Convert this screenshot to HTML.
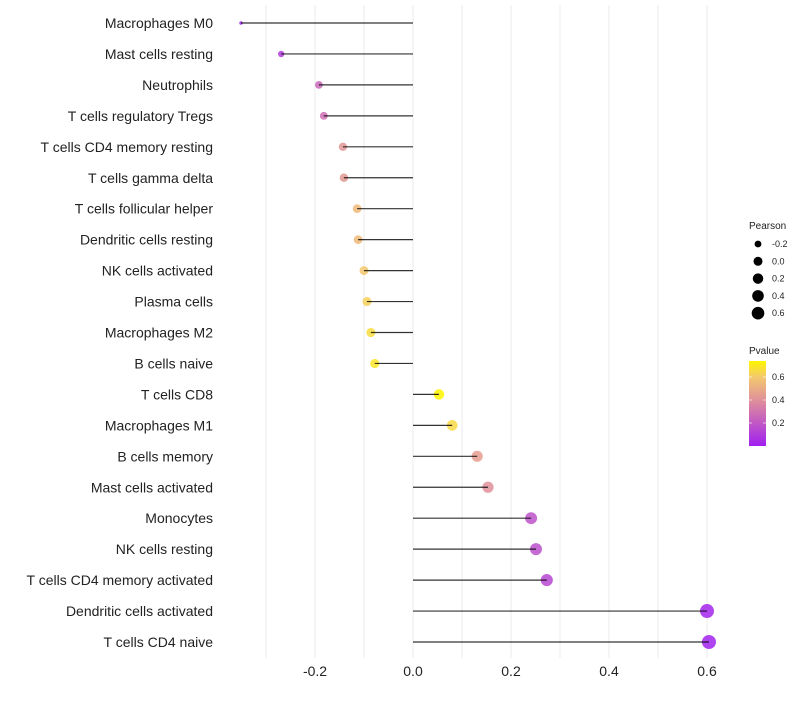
<!DOCTYPE html>
<html><head><meta charset="utf-8"><style>
body{margin:0;background:#fff;font-family:"Liberation Sans",sans-serif}
</style></head><body>
<svg id="chart" width="800" height="700" xmlns="http://www.w3.org/2000/svg"></svg>
<script>
const categories=["Macrophages M0","Mast cells resting","Neutrophils","T cells regulatory  Tregs","T cells CD4 memory resting","T cells gamma delta","T cells follicular helper","Dendritic cells resting","NK cells activated","Plasma cells","Macrophages M2","B cells naive","T cells CD8","Macrophages M1","B cells memory","Mast cells activated","Monocytes","NK cells resting","T cells CD4 memory activated","Dendritic cells activated","T cells CD4 naive"];
const pearson=[-0.351,-0.269,-0.192,-0.182,-0.143,-0.141,-0.114,-0.112,-0.100,-0.094,-0.086,-0.078,0.053,0.080,0.131,0.153,0.241,0.251,0.273,0.600,0.604];
const pvalue=[0.02,0.10,0.26,0.28,0.42,0.43,0.55,0.55,0.60,0.63,0.67,0.70,0.76,0.66,0.45,0.40,0.18,0.17,0.14,0.02,0.01];
const xTicks=[-0.2,0.0,0.2,0.4,0.6];
const xTickLabels=["-0.2","0.0","0.2","0.4","0.6"];
const sizeLegend=[-0.2,0.0,0.2,0.4,0.6];
const colorTicks=[0.2,0.4,0.6];

const svg=document.getElementById('chart');
const NS="http://www.w3.org/2000/svg";
function mk(t,a,p){const e=document.createElementNS(NS,t);for(const k in a)e.setAttribute(k,a[k]);(p||svg).appendChild(e);return e;}
const x=v=>413+v*490;
const y=i=>23+i*30.95;
const rad=v=>Math.max(1.5,Math.sqrt(49*Math.pow(Math.max(0,(v+0.37)/0.97),0.7)));
function lerp(a,b,t){return a.map((c,i)=>Math.round(c+(b[i]-c)*t));}
function col(p){const s=[[160,32,240],[224,144,154],[243,200,110],[255,245,0]];const pos=[0,0.4,0.6,0.76];
 let t=Math.min(Math.max(p,0),0.76);for(let i=0;i<3;i++){if(t<=pos[i+1]){const c=lerp(s[i],s[i+1],(t-pos[i])/(pos[i+1]-pos[i]));return `rgb(${c})`;}}return 'rgb(255,245,0)';}

for(let g=-0.3;g<=0.61;g+=0.1){const l=mk('line',{x1:x(g),x2:x(g),y1:5,y2:658,stroke:'#ebebeb','stroke-width':1});
}
xTicks.forEach((v,i)=>{const t=mk('text',{x:x(v),y:676,'font-size':14,'text-anchor':'middle',fill:'#222'});t.textContent=xTickLabels[i];
});
categories.forEach((c,i)=>{
 const t=mk('text',{x:213,y:y(i)+5,'font-size':14,'text-anchor':'end',fill:'#222'});t.textContent=c;
 
 const pt=mk('circle',{cx:x(pearson[i]),cy:y(i),r:rad(pearson[i]),fill:col(pvalue[i]),'fill-opacity':0.85});
 
 const l=mk('line',{x1:x(0),x2:x(pearson[i]),y1:y(i),y2:y(i),stroke:'#000','stroke-opacity':0.8,'stroke-width':1.2});
 
});
const st=mk('text',{x:749,y:229,'font-size':10,fill:'#222'});st.textContent='Pearson';

sizeLegend.forEach((v,i)=>{const cy=244+i*17.3;
 const c=mk('circle',{cx:758,cy:cy,r:rad(v)*0.9,fill:'#000'});
 const t=mk('text',{x:772,y:cy+3,'font-size':9,fill:'#222'});t.textContent=v.toFixed(1);
 });
const pt2=mk('text',{x:749,y:354,'font-size':10,fill:'#222'});pt2.textContent='Pvalue';

const defs=mk('defs',{});const lg=mk('linearGradient',{id:'g',x1:0,y1:1,x2:0,y2:0},defs);
[[0,col(0)],[0.4/0.74,col(0.4)],[0.6/0.74,col(0.6)],[1,col(0.76)]].forEach(s=>mk('stop',{offset:s[0],'stop-color':s[1]},lg));
const bar=mk('rect',{x:749,y:361,width:17,height:85,fill:'url(#g)'});

colorTicks.forEach(v=>{const cy=446-v*115;
 mk('line',{x1:749,x2:752,y1:cy,y2:cy,stroke:'#fff','stroke-opacity':0.6});mk('line',{x1:763,x2:766,y1:cy,y2:cy,stroke:'#fff','stroke-opacity':0.6});
 const t=mk('text',{x:772,y:cy+3,'font-size':9,fill:'#222'});t.textContent=v.toFixed(1);
 });
</script>
</body></html>
